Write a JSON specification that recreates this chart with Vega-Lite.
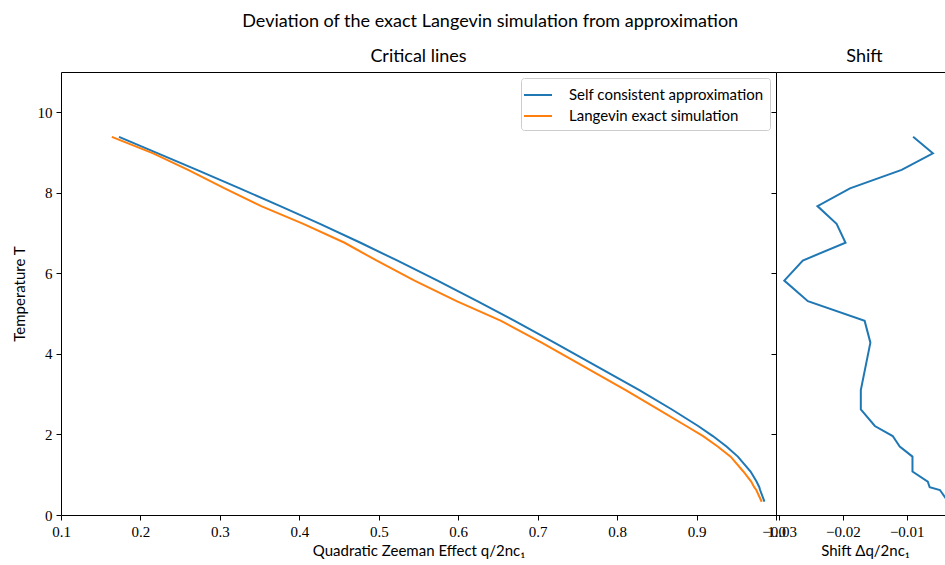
{
  "$schema": "https://vega.github.io/schema/vega-lite/v6.json",
  "padding": {"left": 11, "top": 12, "right": 0, "bottom": 2},
  "background": "white",
  "title": {
    "text": "Deviation of the exact Langevin simulation from approximation",
    "font": "Lato",
    "fontSize": 18,
    "fontWeight": "normal",
    "color": "black",
    "anchor": "middle",
    "offset": 17,
    "dx": 9
  },
  "spacing": 0,
  "bounds": "flush",
  "resolve": {"legend": {"color": "independent"}},
  "datasets": {
    "lines": [
      {"T": 9.39, "series": "Self consistent approximation", "q": 0.173},
      {"T": 8.98, "series": "Self consistent approximation", "q": 0.222},
      {"T": 8.57, "series": "Self consistent approximation", "q": 0.271},
      {"T": 8.11, "series": "Self consistent approximation", "q": 0.325},
      {"T": 7.67, "series": "Self consistent approximation", "q": 0.376},
      {"T": 7.23, "series": "Self consistent approximation", "q": 0.426},
      {"T": 6.76, "series": "Self consistent approximation", "q": 0.477},
      {"T": 6.32, "series": "Self consistent approximation", "q": 0.523},
      {"T": 5.82, "series": "Self consistent approximation", "q": 0.574},
      {"T": 5.31, "series": "Self consistent approximation", "q": 0.624},
      {"T": 4.82, "series": "Self consistent approximation", "q": 0.671},
      {"T": 4.28, "series": "Self consistent approximation", "q": 0.721},
      {"T": 3.10, "series": "Self consistent approximation", "q": 0.828},
      {"T": 2.62, "series": "Self consistent approximation", "q": 0.869},
      {"T": 2.21, "series": "Self consistent approximation", "q": 0.902},
      {"T": 1.96, "series": "Self consistent approximation", "q": 0.9205},
      {"T": 1.70, "series": "Self consistent approximation", "q": 0.9377},
      {"T": 1.45, "series": "Self consistent approximation", "q": 0.952},
      {"T": 1.08, "series": "Self consistent approximation", "q": 0.968},
      {"T": 0.83, "series": "Self consistent approximation", "q": 0.9755},
      {"T": 0.69, "series": "Self consistent approximation", "q": 0.979},
      {"T": 0.62, "series": "Self consistent approximation", "q": 0.980},
      {"T": 0.33, "series": "Self consistent approximation", "q": 0.9855},
      {"T": 9.39, "series": "Langevin exact simulation", "q": 0.164},
      {"T": 8.98, "series": "Langevin exact simulation", "q": 0.216},
      {"T": 8.57, "series": "Langevin exact simulation", "q": 0.260},
      {"T": 8.11, "series": "Langevin exact simulation", "q": 0.306},
      {"T": 7.67, "series": "Langevin exact simulation", "q": 0.352},
      {"T": 7.23, "series": "Langevin exact simulation", "q": 0.405},
      {"T": 6.76, "series": "Langevin exact simulation", "q": 0.457},
      {"T": 6.32, "series": "Langevin exact simulation", "q": 0.497},
      {"T": 5.82, "series": "Langevin exact simulation", "q": 0.545},
      {"T": 5.31, "series": "Langevin exact simulation", "q": 0.598},
      {"T": 4.82, "series": "Langevin exact simulation", "q": 0.654},
      {"T": 4.28, "series": "Langevin exact simulation", "q": 0.705},
      {"T": 3.10, "series": "Langevin exact simulation", "q": 0.8108},
      {"T": 2.62, "series": "Langevin exact simulation", "q": 0.8518},
      {"T": 2.21, "series": "Langevin exact simulation", "q": 0.887},
      {"T": 1.96, "series": "Langevin exact simulation", "q": 0.9083},
      {"T": 1.70, "series": "Langevin exact simulation", "q": 0.9266},
      {"T": 1.45, "series": "Langevin exact simulation", "q": 0.9429},
      {"T": 1.08, "series": "Langevin exact simulation", "q": 0.9589},
      {"T": 0.83, "series": "Langevin exact simulation", "q": 0.9688},
      {"T": 0.69, "series": "Langevin exact simulation", "q": 0.9726},
      {"T": 0.62, "series": "Langevin exact simulation", "q": 0.9752},
      {"T": 0.33, "series": "Langevin exact simulation", "q": 0.982}
    ],
    "shift": [
      {"T": 9.39, "shift": -0.0090},
      {"T": 8.98, "shift": -0.0059},
      {"T": 8.57, "shift": -0.0108},
      {"T": 8.11, "shift": -0.0189},
      {"T": 7.67, "shift": -0.0240},
      {"T": 7.23, "shift": -0.0210},
      {"T": 6.76, "shift": -0.0196},
      {"T": 6.32, "shift": -0.0263},
      {"T": 5.82, "shift": -0.0292},
      {"T": 5.31, "shift": -0.0255},
      {"T": 4.82, "shift": -0.0166},
      {"T": 4.28, "shift": -0.0157},
      {"T": 3.10, "shift": -0.0172},
      {"T": 2.62, "shift": -0.0172},
      {"T": 2.21, "shift": -0.0150},
      {"T": 1.96, "shift": -0.0122},
      {"T": 1.70, "shift": -0.0111},
      {"T": 1.45, "shift": -0.0091},
      {"T": 1.08, "shift": -0.0091},
      {"T": 0.83, "shift": -0.0067},
      {"T": 0.69, "shift": -0.0064},
      {"T": 0.62, "shift": -0.0048},
      {"T": 0.33, "shift": -0.0035}
    ]
  },
  "hconcat": [
    {
      "width": 715,
      "height": 443,
      "title": {"text": "Critical lines"},
      "data": {"name": "lines"},
      "mark": {"type": "line", "strokeWidth": 2},
      "encoding": {
        "x": {
          "field": "q",
          "type": "quantitative",
          "scale": {"domain": [0.1, 1.0], "nice": false, "zero": false},
          "axis": {
            "values": [0.1, 0.2, 0.3, 0.4, 0.5, 0.6, 0.7, 0.8, 0.9, 1.0],
            "format": ".1f",
            "labelFlush": false,
            "domain": false,
            "title": "Quadratic Zeeman Effect q/2nc₁"
          }
        },
        "y": {
          "field": "T",
          "type": "quantitative",
          "scale": {"domain": [0, 11], "nice": false},
          "axis": {
            "values": [0, 2, 4, 6, 8, 10],
            "format": "d",
            "domain": false,
            "title": "Temperature T"
          }
        },
        "color": {
          "field": "series",
          "type": "nominal",
          "scale": {
            "domain": ["Self consistent approximation", "Langevin exact simulation"],
            "range": ["#1f77b4", "#ff7f0e"]
          },
          "legend": {
            "title": null,
            "orient": "top-right",
            "offset": 6
          }
        },
        "order": {"field": "T", "type": "quantitative"}
      }
    },
    {
      "width": 169,
      "height": 443,
      "title": {"text": "Shift", "dx": 4},
      "view": {"stroke": null},
      "data": {"name": "shift"},
      "layer": [
        {
          "mark": {"type": "line", "strokeWidth": 2, "color": "#1f77b4", "clip": true},
          "encoding": {
            "x": {
              "field": "shift",
              "type": "quantitative",
              "scale": {"domain": [-0.0305, -0.004], "nice": false, "zero": false},
              "axis": {
                "values": [-0.03, -0.02, -0.01],
                "format": ".2f",
                "labelFlush": false,
                "domain": true,
                "title": "Shift Δq/2nc₁",
                "titleX": 89
              }
            },
            "y": {
              "field": "T",
              "type": "quantitative",
              "scale": {"domain": [0, 11], "nice": false},
              "axis": {
                "values": [0, 2, 4, 6, 8, 10],
                "labels": false,
                "domain": false,
                "title": null
              }
            },
            "order": {"field": "T", "type": "quantitative"}
          }
        },
        {
          "mark": {"type": "point", "opacity": 0},
          "encoding": {
            "x": {
              "field": "shift",
              "type": "quantitative",
              "axis": {
                "orient": "top",
                "labels": false,
                "ticks": false,
                "domain": true,
                "title": null
              }
            },
            "y": {"field": "T", "type": "quantitative"}
          }
        }
      ],
      "resolve": {"axis": {"x": "independent"}}
    }
  ],
  "config": {
    "view": {"stroke": "black", "strokeWidth": 1},
    "title": {"font": "Lato", "fontSize": 18, "fontWeight": "normal", "color": "black", "offset": 6},
    "axis": {
      "grid": false,
      "labelFont": "Liberation Serif",
      "labelFontSize": 15,
      "labelColor": "black",
      "labelPadding": 4,
      "tickColor": "black",
      "tickSize": 5,
      "domainColor": "black",
      "titleFont": "Lato",
      "titleFontSize": 15,
      "titleFontWeight": "normal",
      "titleColor": "black"
    },
    "axisX": {"titlePadding": 4},
    "axisY": {"titlePadding": 10},
    "legend": {
      "labelFont": "Lato",
      "labelFontSize": 15,
      "labelColor": "black",
      "labelLimit": 400,
      "symbolType": "M-1.4,0H1.4",
      "symbolSize": 400,
      "symbolStrokeWidth": 2,
      "labelOffset": 20,
      "rowPadding": 2,
      "padding": 6,
      "fillColor": "white",
      "strokeColor": "#cccccc",
      "cornerRadius": 3
    }
  }
}
